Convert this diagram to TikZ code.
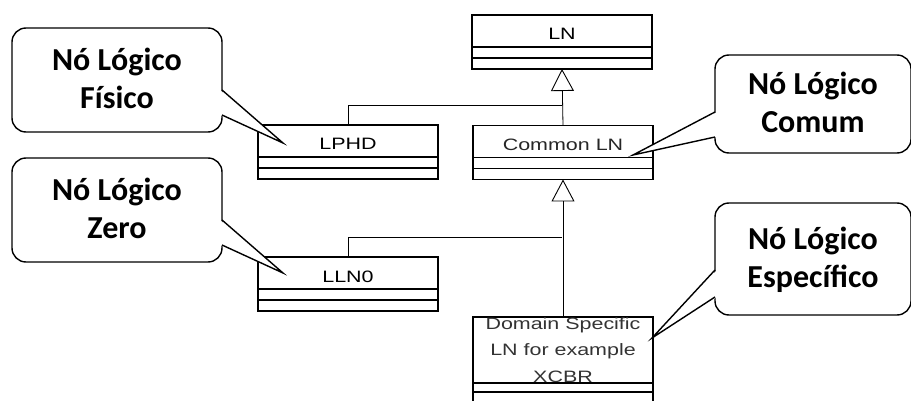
\documentclass[tikz,border=0pt]{standalone}
\usepackage{fontspec}
\setmainfont{Liberation Sans}
\newfontfamily\bubblefont{Carlito}
\usetikzlibrary{arrows.meta, positioning, calc}

\newcommand{\wide}[1]{\scalebox{1.3}[1]{#1}}

\tikzset{
  cls/.style={draw, line width=1.4pt, outer sep=0pt, inner sep=0pt, minimum width=180pt, minimum height=32pt, text height=18pt, text depth=0pt, font=\fontsize{16.5}{19}\selectfont},
  comp/.style={draw, line width=1.4pt, outer sep=0pt, inner sep=0pt, minimum width=180pt, minimum height=11pt},
  bubble/.style={draw, line width=1.4pt, outer sep=0pt, rounded corners=14pt, fill=white, minimum width=210pt, minimum height=104pt, align=center, text depth=3pt, font=\bubblefont\bfseries\fontsize{32}{38}\selectfont},
  edge/.style={line width=1.4pt, line join=miter},
  gen/.style={-{Triangle[open, length=22pt, width=23pt, line width=0.9pt]}, line width=0.8pt},
  link/.style={line width=0.8pt},
}

\begin{document}
\begin{tikzpicture}[x=1pt, y=-1pt]
  \useasboundingbox (0,0) rectangle (911,401);

  % classes
  \node[cls, line width=2.2pt] (ln) at (562,31) {\wide{LN}};
  \node[comp, line width=2.2pt, below=0pt of ln] (ln2) {};
  \node[comp, line width=2.2pt, below=0pt of ln2] (ln3) {};

  \node[cls, text=black!85] (common) at (563,141.5) {\wide{Common LN}};
  \node[comp, below=0pt of common] (common2) {};
  \node[comp, below=0pt of common2] (common3) {};

  \node[cls] (lphd) at (348,141) {\wide{LPHD}};
  \node[comp, below=0pt of lphd] (lphd2) {};
  \node[comp, below=0pt of lphd2] (lphd3) {};

  \node[cls] (lln) at (348,273) {\wide{LLN0}};
  \node[comp, below=0pt of lln] (lln2) {};
  \node[comp, below=0pt of lln2] (lln3) {};

  \node[cls, text height={}, text depth={}, minimum height=66pt, align=center, text=black!80, font=\fontsize{16.5}{26.5}\selectfont] (dom) at (563,350)
    {\wide{Domain Specific}\\ \wide{LN for example}\\ \wide{XCBR}};
  \node[comp, minimum height=9pt, below=0pt of dom] (dom2) {};
  \node[comp, minimum height=14pt, below=0pt of dom2] (dom3) {};

  % inheritance
  \coordinate (j1) at (562,105);
  \coordinate (j2) at (562,237);
  \draw[gen] (common.north) -- (ln3.south);
  \draw[link] (lphd.north) |- (j1);
  \draw[gen] (dom.north) -- (common3.south);
  \draw[link] (lln.north) |- (j2);

  % callouts
  \node[bubble] (cfis) at (117,80) {N\'o L\'ogico\\F\'isico};
  \node[bubble, minimum width=196pt, minimum height=98pt] (ccom) at (813,104) {N\'o L\'ogico\\Comum};
  \node[bubble] (czer) at (117,210) {N\'o L\'ogico\\Zero};
  \node[bubble, minimum width=196pt, minimum height=112pt] (cesp) at (813,259) {N\'o L\'ogico\\Espec\'ifico};

  \coordinate (tfis) at (283,143);
  \coordinate (tcom) at (633,155);
  \coordinate (tzer) at (283,273);
  \coordinate (tesp) at (652,338);

  \fill[white] ($(cfis.south east)+(-2,-42)$) -- (tfis) -- ($(cfis.south east)+(-2,-17)$) -- cycle;
  \draw[edge] ($(cfis.south east)+(0,-42)$) -- (tfis) -- ($(cfis.south east)+(0,-17)$);

  \fill[white] ($(czer.south east)+(-2,-42)$) -- (tzer) -- ($(czer.south east)+(-2,-17)$) -- cycle;
  \draw[edge] ($(czer.south east)+(0,-42)$) -- (tzer) -- ($(czer.south east)+(0,-17)$);

  \fill[white] ($(ccom.south west)+(2,-41)$) -- (tcom) -- ($(ccom.south west)+(2,-16)$) -- cycle;
  \draw[edge] ($(ccom.south west)+(0,-41)$) -- (tcom) -- ($(ccom.south west)+(0,-16)$);

  \fill[white] ($(cesp.south west)+(2,-45)$) -- (tesp) -- ($(cesp.south west)+(2,-18)$) -- cycle;
  \draw[edge] ($(cesp.south west)+(0,-45)$) -- (tesp) -- ($(cesp.south west)+(0,-18)$);
\end{tikzpicture}
\end{document}
